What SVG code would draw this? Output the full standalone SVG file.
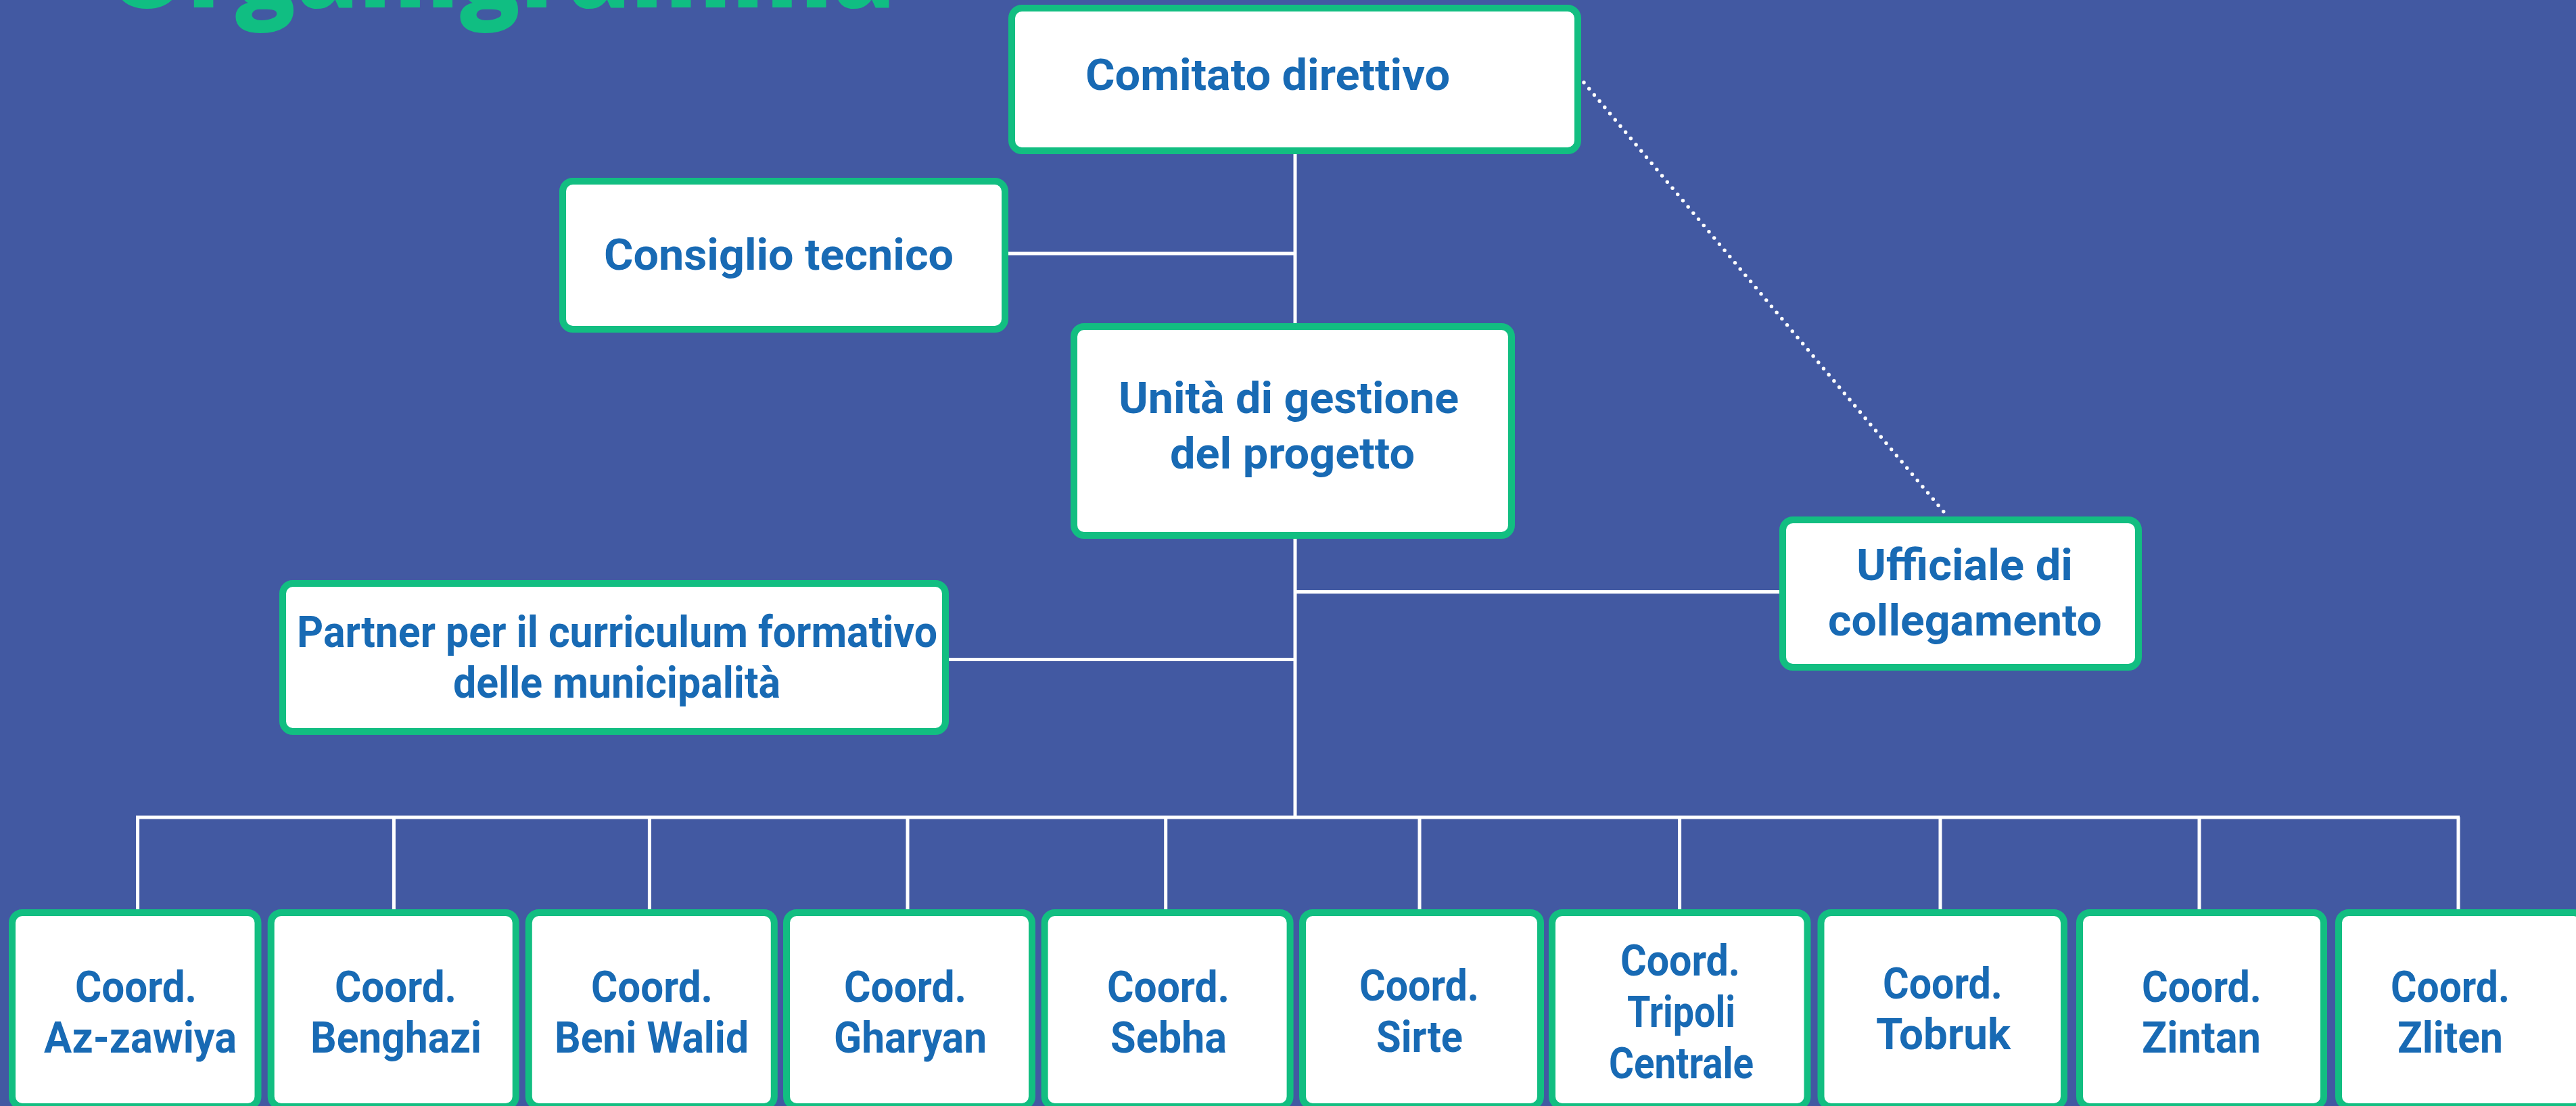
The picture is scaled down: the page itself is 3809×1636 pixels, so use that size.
<svg xmlns="http://www.w3.org/2000/svg" width="3809" height="1636" viewBox="0 0 3809 1636">
<style>
.bg{fill:#4259A2}
.box{fill:#FFFFFF;stroke:#12BE81;stroke-width:10}
.t{font-family:Roboto,"Liberation Sans",Arial,sans-serif;font-weight:700;font-size:64px;fill:#186AB4}
.c{stroke:#FFFFFF;stroke-width:5;fill:none}
.dot{stroke:#FFFFFF;stroke-width:5.5;stroke-linecap:round;stroke-dasharray:0 12;fill:none}
.title{font-family:"Open Sans","Liberation Sans",Arial,sans-serif;font-weight:800;font-size:160px;fill:#10BE82}
</style>
<rect class="bg" x="0" y="0" width="3809" height="1636"/>
<text class="title" x="158" y="11" textLength="1166" lengthAdjust="spacingAndGlyphs">Organigramma</text>
<g id="connectors">
<line class="c" x1="1915" y1="228" x2="1915" y2="1209"/>
<line class="c" x1="1491" y1="375" x2="1915" y2="375"/>
<line class="c" x1="1915" y1="875.5" x2="2631" y2="875.5"/>
<line class="c" x1="1403" y1="975.5" x2="1915" y2="975.5"/>
<line class="c" x1="201" y1="1209" x2="3637" y2="1209"/>
<line class="c" x1="203.6" y1="1209" x2="203.6" y2="1345"/>
<line class="c" x1="582.4" y1="1209" x2="582.4" y2="1345"/>
<line class="c" x1="960.4" y1="1209" x2="960.4" y2="1345"/>
<line class="c" x1="1342" y1="1209" x2="1342" y2="1345"/>
<line class="c" x1="1723.7" y1="1209" x2="1723.7" y2="1345"/>
<line class="c" x1="2099" y1="1209" x2="2099" y2="1345"/>
<line class="c" x1="2483.6" y1="1209" x2="2483.6" y2="1345"/>
<line class="c" x1="2869" y1="1209" x2="2869" y2="1345"/>
<line class="c" x1="3252" y1="1209" x2="3252" y2="1345"/>
<line class="c" x1="3635" y1="1209" x2="3635" y2="1345"/>
<line class="dot" x1="2342" y1="122" x2="2874" y2="757"/>
</g>
<g id="comitato">
<rect class="box" x="1496" y="12" width="837" height="211" rx="15"/>
<text class="t" x="1605" y="133" textLength="539" lengthAdjust="spacingAndGlyphs">Comitato direttivo</text>
</g>
<g id="consiglio">
<rect class="box" x="832" y="268" width="654" height="219" rx="15"/>
<text class="t" x="893" y="399" textLength="517" lengthAdjust="spacingAndGlyphs">Consiglio tecnico</text>
</g>
<g id="ugp">
<rect class="box" x="1588" y="483" width="647" height="309" rx="15"/>
<text class="t" x="1654" y="611" textLength="503" lengthAdjust="spacingAndGlyphs">Unità di gestione</text>
<text class="t" x="1730" y="693" textLength="362" lengthAdjust="spacingAndGlyphs">del progetto</text>
</g>
<g id="ufficiale">
<rect class="box" x="2636" y="769" width="526" height="218" rx="15"/>
<text class="t" x="2745" y="858" textLength="320" lengthAdjust="spacingAndGlyphs">Ufficiale di</text>
<text class="t" x="2703" y="940" textLength="405" lengthAdjust="spacingAndGlyphs">collegamento</text>
</g>
<g id="partner">
<rect class="box" x="418" y="863" width="980" height="219" rx="15"/>
<text class="t" x="439" y="957" textLength="947" lengthAdjust="spacingAndGlyphs">Partner per il curriculum formativo</text>
<text class="t" x="670" y="1032" textLength="484" lengthAdjust="spacingAndGlyphs">delle municipalità</text>
</g>
<g id="coord-azzawiya">
<rect class="box" x="18" y="1350" width="363.5" height="287" rx="15"/>
<text class="t" x="111" y="1482" textLength="180" lengthAdjust="spacingAndGlyphs">Coord.</text>
<text class="t" x="65" y="1557" textLength="285" lengthAdjust="spacingAndGlyphs">Az-zawiya</text>
</g>
<g id="coord-benghazi">
<rect class="box" x="400.7" y="1350" width="362" height="287" rx="15"/>
<text class="t" x="495" y="1482" textLength="180" lengthAdjust="spacingAndGlyphs">Coord.</text>
<text class="t" x="459" y="1557" textLength="253" lengthAdjust="spacingAndGlyphs">Benghazi</text>
</g>
<g id="coord-beniwalid">
<rect class="box" x="781.8" y="1350" width="363" height="287" rx="15"/>
<text class="t" x="874" y="1482" textLength="180" lengthAdjust="spacingAndGlyphs">Coord.</text>
<text class="t" x="820" y="1557" textLength="287" lengthAdjust="spacingAndGlyphs">Beni Walid</text>
</g>
<g id="coord-gharyan">
<rect class="box" x="1163" y="1350" width="363" height="287" rx="15"/>
<text class="t" x="1248" y="1482" textLength="181" lengthAdjust="spacingAndGlyphs">Coord.</text>
<text class="t" x="1233" y="1557" textLength="226" lengthAdjust="spacingAndGlyphs">Gharyan</text>
</g>
<g id="coord-sebha">
<rect class="box" x="1544.6" y="1350" width="363" height="287" rx="15"/>
<text class="t" x="1637" y="1482" textLength="181" lengthAdjust="spacingAndGlyphs">Coord.</text>
<text class="t" x="1642" y="1557" textLength="172" lengthAdjust="spacingAndGlyphs">Sebha</text>
</g>
<g id="coord-sirte">
<rect class="box" x="1926" y="1350" width="352" height="287" rx="15"/>
<text class="t" x="2010" y="1480" textLength="177" lengthAdjust="spacingAndGlyphs">Coord.</text>
<text class="t" x="2035" y="1556" textLength="128" lengthAdjust="spacingAndGlyphs">Sirte</text>
</g>
<g id="coord-tripoli">
<rect class="box" x="2295" y="1350" width="377.5" height="287" rx="15"/>
<text class="t" x="2396" y="1443" textLength="177" lengthAdjust="spacingAndGlyphs">Coord.</text>
<text class="t" x="2406" y="1519" textLength="160" lengthAdjust="spacingAndGlyphs">Tripoli</text>
<text class="t" x="2379" y="1595" textLength="214" lengthAdjust="spacingAndGlyphs">Centrale</text>
</g>
<g id="coord-tobruk">
<rect class="box" x="2692.5" y="1350" width="359.5" height="287" rx="15"/>
<text class="t" x="2784" y="1477" textLength="177" lengthAdjust="spacingAndGlyphs">Coord.</text>
<text class="t" x="2774" y="1552" textLength="199" lengthAdjust="spacingAndGlyphs">Tobruk</text>
</g>
<g id="coord-zintan">
<rect class="box" x="3075" y="1350" width="361" height="287" rx="15"/>
<text class="t" x="3167" y="1482" textLength="177" lengthAdjust="spacingAndGlyphs">Coord.</text>
<text class="t" x="3167" y="1557" textLength="176" lengthAdjust="spacingAndGlyphs">Zintan</text>
</g>
<g id="coord-zliten">
<rect class="box" x="3458" y="1350" width="362" height="287" rx="15"/>
<text class="t" x="3535" y="1482" textLength="176" lengthAdjust="spacingAndGlyphs">Coord.</text>
<text class="t" x="3545" y="1557" textLength="156" lengthAdjust="spacingAndGlyphs">Zliten</text>
</g>
</svg>
